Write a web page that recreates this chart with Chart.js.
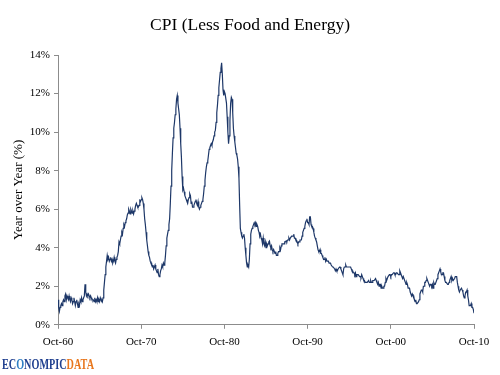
<!DOCTYPE html>
<html>
<head>
<meta charset="utf-8">
<script src="https://cdn.jsdelivr.net/npm/chart.js@4.4.1/dist/chart.umd.min.js"></script>
<style>
  body { margin: 0; background: #fff; }
  #wrap { position: relative; width: 500px; height: 375px; }
  #logo {
    position: absolute; left: 2px; top: 356px;
    font-family: 'Liberation Serif', serif; font-weight: bold; font-size: 15px;
    transform: scaleX(0.68); transform-origin: left center; white-space: nowrap;
  }
  #logo .b { color: #1f3f8f; }
  #logo .g { color: #2f7fc4; }
  #logo .o { color: #e8761c; }
</style>
</head>
<body>
<div id="wrap">
  <canvas id="cpiChart" width="500" height="375"></canvas>
  <div id="logo"><span class="b">EC</span><span class="g">O</span><span class="b">NOMPIC</span><span class="o">DATA</span></div>
</div>
<script>
// CPI less food & energy, year over year %, monthly from Oct-1960 to Oct-2010
const y1960 = [1.3, 0.9, 0.7]; // Oct-Dec
const y1961 = [0.9, 1.0, 1.1, 1.0, 1.2, 1.3, 1.2, 1.5, 1.6, 1.3, 1.5, 1.4];
const y1962 = [1.3, 1.5, 1.3, 1.2, 1.4, 1.3, 1.1, 1.2, 1.4, 1.2, 1.0, 1.2];
const y1963 = [1.3, 1.1, 0.9, 1.1, 1.0, 1.3, 1.2, 1.4, 1.2, 1.3, 1.4, 1.5];
const y1964 = [2.1, 1.7, 1.5, 1.6, 1.5, 1.6, 1.5, 1.4, 1.5, 1.4, 1.3, 1.3];
const y1965 = [1.3, 1.2, 1.4, 1.2, 1.3, 1.2, 1.4, 1.2, 1.3, 1.2, 1.4, 1.3];
const y1966 = [1.3, 1.2, 1.4, 1.8, 2.2, 2.6, 3.0, 3.3, 3.6, 3.4, 3.5, 3.3];
const y1967 = [3.4, 3.5, 3.3, 3.4, 3.2, 3.3, 3.5, 3.3, 3.2, 3.4, 3.5, 3.6];
const y1968 = [3.8, 4.3, 4.2, 4.4, 4.6, 4.8, 4.7, 5.0, 5.2, 5.1, 5.3, 5.4];
const y1969 = [5.5, 5.7, 5.8, 6.0, 5.9, 5.75, 6.0, 5.9, 5.8, 5.9, 5.75, 5.9];
const y1970 = [6.0, 6.2, 6.3, 6.2, 6.1, 6.1, 6.2, 6.45, 6.4, 6.5, 6.6, 6.5];
const y1971 = [6.3, 6.0, 5.5, 5.2, 4.8, 4.4, 4.1, 3.8, 3.6, 3.5, 3.3, 3.2];
const y1972 = [3.2, 3.0, 3.1, 2.9, 3.0, 3.1, 2.9, 2.8, 2.7, 2.9, 2.6, 2.5];
const y1973 = [2.6, 2.8, 2.9, 3.1, 3.0, 3.2, 3.1, 3.2, 3.6, 4.1, 4.5, 4.7];
const y1974 = [4.9, 5.2, 5.5, 6.3, 7.2, 8.0, 8.9, 9.7, 10.2, 10.5, 10.9, 11.2];
const y1975 = [11.7, 11.9, 11.5, 11.2, 10.9, 10.2, 9.4, 8.7, 7.7, 7.0, 7.1, 6.9];
const y1976 = [6.7, 6.6, 6.5, 6.4, 6.3, 6.5, 6.6, 6.8, 6.7, 6.3, 6.4, 6.1];
const y1977 = [6.1, 6.2, 6.3, 6.4, 6.5, 6.3, 6.2, 6.4, 6.1, 6.0, 6.1, 6.2];
const y1978 = [6.3, 6.4, 6.5, 6.8, 7.2, 7.5, 7.9, 8.2, 8.4, 8.5, 8.8, 9.1];
const y1979 = [9.2, 9.3, 9.4, 9.3, 9.5, 9.6, 9.8, 10.0, 10.1, 10.5, 11.0, 11.4];
const y1980 = [11.9, 12.3, 12.7, 13.1, 13.3, 13.6, 13.0, 12.2, 11.9, 12.1, 12.0, 12.0];
const y1981 = [11.5, 10.8, 10.0, 9.4, 9.8, 10.6, 11.5, 11.8, 11.7, 11.0, 10.2, 9.8];
const y1982 = [9.5, 9.2, 8.9, 8.8, 8.6, 8.2, 7.6, 6.2, 5.0, 4.8, 4.6, 4.5];
const y1983 = [4.6, 4.7, 4.5, 4.0, 3.6, 3.2, 3.0, 3.1, 3.0, 3.4, 4.2, 4.7];
const y1984 = [4.9, 5.0, 5.1, 5.2, 5.3, 5.2, 5.3, 5.1, 5.2, 5.1, 4.9, 4.8];
const y1985 = [4.6, 4.7, 4.5, 4.4, 4.2, 4.5, 4.2, 4.1, 4.3, 4.0, 4.2, 4.1];
const y1986 = [4.2, 4.3, 4.35, 4.1, 4.0, 4.1, 3.9, 3.8, 3.9, 3.8, 3.7, 3.8];
const y1987 = [3.6, 3.6, 3.7, 3.8, 3.8, 4.0, 3.9, 4.1, 4.2, 4.2, 4.2, 4.2];
const y1988 = [4.3, 4.3, 4.35, 4.3, 4.4, 4.4, 4.5, 4.4, 4.5, 4.5, 4.6, 4.6];
const y1989 = [4.6, 4.7, 4.5, 4.5, 4.4, 4.4, 4.3, 4.2, 4.3, 4.3, 4.4, 4.4];
const y1990 = [4.4, 4.6, 4.8, 4.9, 5.0, 5.1, 5.3, 5.4, 5.5, 5.3, 5.3, 5.2];
const y1991 = [5.6, 5.6, 5.2, 5.1, 5.1, 5.0, 4.8, 4.6, 4.5, 4.4, 4.3, 4.1];
const y1992 = [3.9, 3.8, 3.8, 3.9, 3.7, 3.7, 3.6, 3.5, 3.4, 3.4, 3.5, 3.3];
const y1993 = [3.4, 3.3, 3.3, 3.3, 3.2, 3.2, 3.2, 3.1, 3.1, 3.0, 3.0, 3.0];
const y1994 = [2.9, 2.8, 2.9, 2.8, 2.8, 2.9, 2.9, 3.0, 3.0, 2.9, 2.8, 2.7];
const y1995 = [2.6, 2.9, 3.0, 3.0, 3.1, 3.0, 3.0, 3.0, 3.0, 3.0, 3.0, 3.0];
const y1996 = [2.9, 2.8, 2.8, 2.7, 2.7, 2.6, 2.7, 2.5, 2.6, 2.6, 2.6, 2.6];
const y1997 = [2.5, 2.5, 2.45, 2.6, 2.5, 2.4, 2.3, 2.3, 2.2, 2.2, 2.2, 2.2];
const y1998 = [2.2, 2.3, 2.2, 2.2, 2.3, 2.2, 2.2, 2.3, 2.3, 2.3, 2.3, 2.4];
const y1999 = [2.3, 2.2, 2.1, 2.2, 2.0, 2.1, 2.1, 1.9, 2.0, 1.9, 1.9, 2.0];
const y2000 = [2.0, 2.2, 2.4, 2.3, 2.4, 2.5, 2.5, 2.6, 2.6, 2.5, 2.6, 2.6];
const y2001 = [2.6, 2.7, 2.7, 2.6, 2.6, 2.7, 2.7, 2.7, 2.6, 2.6, 2.8, 2.7];
const y2002 = [2.6, 2.6, 2.4, 2.5, 2.5, 2.3, 2.2, 2.1, 2.2, 2.1, 1.9, 1.9];
const y2003 = [1.9, 1.7, 1.7, 1.5, 1.6, 1.5, 1.5, 1.3, 1.2, 1.3, 1.1, 1.1];
const y2004 = [1.1, 1.2, 1.3, 1.6, 1.7, 1.8, 1.8, 1.7, 2.0, 2.0, 2.2, 2.2];
const y2005 = [2.3, 2.4, 2.3, 2.2, 2.2, 2.0, 2.1, 2.1, 2.0, 2.1, 1.9, 2.2];
const y2006 = [2.1, 2.1, 2.1, 2.3, 2.4, 2.6, 2.7, 2.8, 2.9, 2.75, 2.6, 2.6];
const y2007 = [2.7, 2.7, 2.5, 2.3, 2.2, 2.2, 2.2, 2.1, 2.1, 2.2, 2.3, 2.4];
const y2008 = [2.5, 2.3, 2.4, 2.3, 2.3, 2.4, 2.5, 2.5, 2.5, 2.2, 2.0, 1.8];
const y2009 = [1.7, 1.8, 1.8, 1.9, 1.8, 1.7, 1.5, 1.4, 1.5, 1.7, 1.7, 1.8];
const y2010 = [1.5, 1.3, 1.0, 1.0, 1.0, 1.1, 0.9, 0.9, 0.8, 0.6]; // Jan-Oct

const tickLabels = ['Oct-60', 'Oct-70', 'Oct-80', 'Oct-90', 'Oct-00', 'Oct-10'];

const coreCpi = [].concat(
  y1960, y1961, y1962, y1963, y1964, y1965, y1966, y1967, y1968, y1969,
  y1970, y1971, y1972, y1973, y1974, y1975, y1976, y1977, y1978, y1979,
  y1980, y1981, y1982, y1983, y1984, y1985, y1986, y1987, y1988, y1989,
  y1990, y1991, y1992, y1993, y1994, y1995, y1996, y1997, y1998, y1999,
  y2000, y2001, y2002, y2003, y2004, y2005, y2006, y2007, y2008, y2009,
  y2010
);

// month index since Oct-60 on the x axis
const puntos = coreCpi.map((v, i) => ({ x: i, y: v }));

const serif = 'Liberation Serif';
const gris = '#8c8c8c';

const ctx = document.getElementById('cpiChart').getContext('2d');
new Chart(ctx, {
  type: 'line',
  data: {
    datasets: [{
      label: 'CPI (Less Food and Energy)',
      data: puntos,
      borderColor: '#1d3768',
      borderWidth: 1.2,
      pointRadius: 0,
      tension: 0,
      fill: false
    }]
  },
  options: {
    responsive: false,
    animation: false,
    // same padding both sides so the title sits centred on the page
    layout: { padding: { left: 26, right: 26, top: 0, bottom: 19 } },
    plugins: {
      legend: { display: false },
      tooltip: { enabled: false },
      title: {
        display: true,
        text: 'CPI (Less Food and Energy)',
        color: '#000',
        font: { family: serif, size: 17.5, weight: 'normal' },
        padding: { top: 15, bottom: 19 }
      }
    },
    scales: {
      x: {
        type: 'linear',
        min: 0,
        max: 600,
        ticks: {
          stepSize: 120,
          autoSkip: false,
          maxRotation: 0,
          padding: 7,
          color: '#000',
          font: { family: serif, size: 11 },
          callback: (v) => tickLabels[v / 120]
        },
        grid: { drawOnChartArea: false, tickLength: 4, color: gris },
        border: { color: gris }
      },
      y: {
        min: 0,
        max: 14,
        afterFit: (scale) => { scale.width = 32; },
        ticks: {
          stepSize: 2,
          padding: 4,
          color: '#000',
          font: { family: serif, size: 11 },
          callback: (v) => v + '%'
        },
        title: {
          display: true,
          text: 'Year over Year (%)',
          color: '#000',
          font: { family: serif, size: 13 },
          padding: { top: -15, bottom: 0 }
        },
        grid: { drawOnChartArea: false, tickLength: 4, color: gris },
        border: { color: gris }
      }
    }
  }
});
</script>
</body>
</html>
